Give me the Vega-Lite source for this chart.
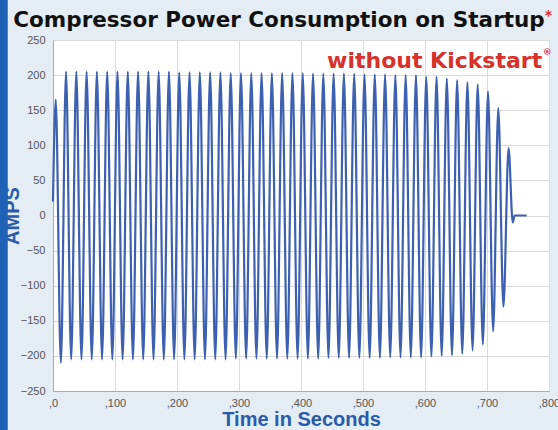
{
  "$schema": "https://vega.github.io/schema/vega-lite/v6.json",
  "width": 496,
  "height": 351,
  "autosize": "none",
  "padding": {"left": 53, "top": 40, "right": 9, "bottom": 39},
  "background": "#e4ecf4",
  "title": {
    "text": "Compressor Power Consumption on Startup",
    "font": "DejaVu Sans",
    "fontSize": 21.5,
    "fontWeight": "bold",
    "color": "#111111",
    "anchor": "middle",
    "frame": "group",
    "offset": 8,
    "dy": 40,
    "dx": -22
  },
  "config": {
    "view": {"stroke": "#b8b8b8", "fill": "white"},
    "axis": {
      "labelFont": "Liberation Sans",
      "labelFontSize": 11,
      "labelColor": "#555555",
      "ticks": false,
      "domainColor": "#aaaaaa",
      "gridColor": "#dadada",
      "titleColor": "#2a5ba8",
      "titleFont": "Liberation Sans",
      "titleFontWeight": "bold",
      "titleFontSize": 20,
      "labelFlush": false,
      "labelOverlap": false
    }
  },
  "data": {
    "values": [
      {"t": 0, "amps": 20},
      {"t": 4.4, "amps": 165},
      {"t": 12.7, "amps": -210},
      {"t": 21.0, "amps": 205},
      {"t": 29.3, "amps": -205},
      {"t": 37.6, "amps": 205},
      {"t": 45.9, "amps": -205},
      {"t": 54.2, "amps": 205},
      {"t": 62.5, "amps": -205},
      {"t": 70.8, "amps": 205},
      {"t": 79.1, "amps": -205},
      {"t": 87.4, "amps": 205},
      {"t": 95.7, "amps": -205},
      {"t": 104.0, "amps": 205},
      {"t": 112.3, "amps": -205},
      {"t": 120.6, "amps": 205},
      {"t": 128.9, "amps": -205},
      {"t": 137.2, "amps": 205},
      {"t": 145.5, "amps": -205},
      {"t": 153.8, "amps": 205},
      {"t": 162.1, "amps": -205},
      {"t": 170.4, "amps": 205},
      {"t": 178.7, "amps": -205},
      {"t": 187.0, "amps": 205},
      {"t": 195.3, "amps": -205},
      {"t": 203.6, "amps": 204},
      {"t": 211.9, "amps": -205},
      {"t": 220.2, "amps": 204},
      {"t": 228.5, "amps": -205},
      {"t": 236.8, "amps": 204},
      {"t": 245.1, "amps": -205},
      {"t": 253.4, "amps": 204},
      {"t": 261.7, "amps": -205},
      {"t": 270.0, "amps": 204},
      {"t": 278.3, "amps": -205},
      {"t": 286.6, "amps": 203},
      {"t": 294.9, "amps": -204},
      {"t": 303.2, "amps": 203},
      {"t": 311.5, "amps": -204},
      {"t": 319.8, "amps": 203},
      {"t": 328.1, "amps": -204},
      {"t": 336.4, "amps": 203},
      {"t": 344.7, "amps": -204},
      {"t": 353.0, "amps": 203},
      {"t": 361.3, "amps": -204},
      {"t": 369.6, "amps": 203},
      {"t": 377.9, "amps": -204},
      {"t": 386.2, "amps": 203},
      {"t": 394.5, "amps": -204},
      {"t": 402.8, "amps": 203},
      {"t": 411.1, "amps": -204},
      {"t": 419.4, "amps": 202},
      {"t": 427.7, "amps": -204},
      {"t": 436.0, "amps": 202},
      {"t": 444.3, "amps": -203},
      {"t": 452.6, "amps": 202},
      {"t": 460.9, "amps": -203},
      {"t": 469.2, "amps": 202},
      {"t": 477.5, "amps": -203},
      {"t": 485.8, "amps": 202},
      {"t": 494.1, "amps": -203},
      {"t": 502.4, "amps": 201},
      {"t": 510.7, "amps": -203},
      {"t": 519.0, "amps": 201},
      {"t": 527.3, "amps": -203},
      {"t": 535.6, "amps": 201},
      {"t": 543.9, "amps": -202},
      {"t": 552.2, "amps": 200},
      {"t": 560.5, "amps": -202},
      {"t": 568.8, "amps": 200},
      {"t": 577.1, "amps": -202},
      {"t": 585.4, "amps": 200},
      {"t": 593.7, "amps": -202},
      {"t": 602.0, "amps": 198},
      {"t": 610.3, "amps": -201},
      {"t": 618.6, "amps": 198},
      {"t": 626.9, "amps": -200},
      {"t": 635.2, "amps": 195},
      {"t": 643.5, "amps": -199},
      {"t": 651.8, "amps": 193},
      {"t": 660.1, "amps": -197},
      {"t": 668.4, "amps": 190},
      {"t": 676.7, "amps": -192},
      {"t": 685.0, "amps": 187},
      {"t": 693.3, "amps": -184},
      {"t": 701.6, "amps": 177},
      {"t": 709.9, "amps": -165},
      {"t": 718.2, "amps": 153},
      {"t": 726.5, "amps": -130},
      {"t": 734.8, "amps": 96},
      {"t": 741.5, "amps": -10},
      {"t": 744.5, "amps": 0},
      {"t": 764, "amps": 0}
    ]
  },
  "layer": [
    {
      "mark": {"type": "line", "interpolate": "monotone", "color": "#3d61b0", "strokeWidth": 2.2},
      "encoding": {
        "x": {
          "field": "t",
          "type": "quantitative",
          "scale": {"domain": [0, 800], "nice": false},
          "axis": {
            "title": "Time in Seconds",
            "values": [0, 100, 200, 300, 400, 500, 600, 700, 800],
            "labelExpr": "',' + datum.value",
            "labelOverlap": false,
            "labelPadding": 6,
            "titlePadding": 1
          }
        },
        "y": {
          "field": "amps",
          "type": "quantitative",
          "scale": {"domain": [-250, 250], "nice": false},
          "axis": {
            "title": "AMPS",
            "values": [-250, -200, -150, -100, -50, 0, 50, 100, 150, 200, 250],
            "labelOverlap": false,
            "labelPadding": 8,
            "titlePadding": -2
          }
        }
      }
    },
    {
      "data": {"values": [{"label": "strip"}]},
      "mark": {"type": "rect", "color": "#1d62b4"},
      "encoding": {
        "x": {"datum": -86, "type": "quantitative", "axis": {"title": "Time in Seconds", "values": [0, 100, 200, 300, 400, 500, 600, 700, 800], "labelExpr": "',' + datum.value", "labelOverlap": false, "labelPadding": 6, "titlePadding": 1}},
        "x2": {"datum": -73},
        "y": {"datum": -306, "type": "quantitative", "axis": {"title": "AMPS", "values": [-250, -200, -150, -100, -50, 0, 50, 100, 150, 200, 250], "labelOverlap": false, "labelPadding": 8, "titlePadding": -2}},
        "y2": {"datum": 307}
      }
    },
    {
      "data": {"values": [{"label": "without Kickstart"}]},
      "mark": {"type": "text", "font": "DejaVu Sans", "fontWeight": "bold", "fontSize": 22, "color": "#d6312a", "align": "right", "baseline": "middle"},
      "encoding": {
        "x": {"datum": 789, "type": "quantitative", "axis": {"title": "Time in Seconds", "values": [0, 100, 200, 300, 400, 500, 600, 700, 800], "labelExpr": "',' + datum.value", "labelOverlap": false, "labelPadding": 6, "titlePadding": 1}},
        "y": {"datum": 220, "type": "quantitative", "axis": {"title": "AMPS", "values": [-250, -200, -150, -100, -50, 0, 50, 100, 150, 200, 250], "labelOverlap": false, "labelPadding": 8, "titlePadding": -2}},
        "text": {"field": "label"}
      }
    },
    {
      "data": {"values": [{"label": "®"}]},
      "mark": {"type": "text", "font": "DejaVu Sans", "fontWeight": "bold", "fontSize": 9, "color": "#d6312a", "align": "left", "baseline": "middle"},
      "encoding": {
        "x": {"datum": 790, "type": "quantitative", "axis": {"title": "Time in Seconds", "values": [0, 100, 200, 300, 400, 500, 600, 700, 800], "labelExpr": "',' + datum.value", "labelOverlap": false, "labelPadding": 6, "titlePadding": 1}},
        "y": {"datum": 233, "type": "quantitative", "axis": {"title": "AMPS", "values": [-250, -200, -150, -100, -50, 0, 50, 100, 150, 200, 250], "labelOverlap": false, "labelPadding": 8, "titlePadding": -2}},
        "text": {"field": "label"}
      }
    },
    {
      "data": {"values": [{"label": "*"}]},
      "mark": {"type": "text", "font": "DejaVu Sans", "fontWeight": "bold", "fontSize": 14, "color": "#d6312a", "align": "center", "baseline": "middle"},
      "encoding": {
        "x": {"datum": 799, "type": "quantitative", "axis": {"title": "Time in Seconds", "values": [0, 100, 200, 300, 400, 500, 600, 700, 800], "labelExpr": "',' + datum.value", "labelOverlap": false, "labelPadding": 6, "titlePadding": 1}},
        "y": {"datum": 284, "type": "quantitative", "axis": {"title": "AMPS", "values": [-250, -200, -150, -100, -50, 0, 50, 100, 150, 200, 250], "labelOverlap": false, "labelPadding": 8, "titlePadding": -2}},
        "text": {"field": "label"}
      }
    }
  ]
}
